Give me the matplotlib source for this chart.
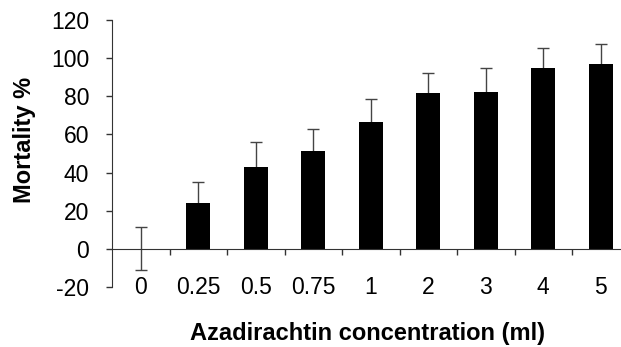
import matplotlib
matplotlib.use("Agg")
import matplotlib.pyplot as plt
import numpy as np

plt.rcParams['font.family'] = ['Liberation Sans', 'DejaVu Sans']
plt.rcParams['axes.unicode_minus'] = False

concentrations = ["0", "0.25", "0.5", "0.75", "1", "2", "3", "4", "5"]
mortality = [0, 24.3, 43.1, 51.4, 66.7, 81.6, 82.5, 95.0, 97.1]
errors = [11.3, 11.0, 12.8, 11.3, 11.7, 10.6, 12.5, 10.2, 10.2]


def main():
    fig = plt.figure(figsize=(6.21, 3.47), dpi=100)
    ax = fig.add_axes([0.1804, 0.1729, 0.8333, 0.7695])

    x = np.arange(len(concentrations))
    ax.bar(x, mortality, width=0.42, color="black", zorder=2)
    ax.errorbar(x, mortality, yerr=errors, fmt="none", ecolor="#444444",
                elinewidth=1.0, capsize=4, capthick=1.0, zorder=1)

    ax.set_xlim(-0.5, len(concentrations) - 0.5)
    ax.set_ylim(-20, 120)
    ax.set_yticks(np.arange(-20, 121, 20))
    ax.tick_params(axis="y", labelsize=16.5, length=4.5, width=1, color="#333333", pad=12)

    ax.spines["top"].set_visible(False)
    ax.spines["right"].set_visible(False)
    ax.spines["bottom"].set_position(("data", 0))
    ax.spines["left"].set_color("#333333")
    ax.spines["bottom"].set_color("#333333")

    ax.set_xticks(x)
    ax.set_xticklabels([])
    ax.tick_params(axis="x", which="major", length=0)
    ax.set_xticks(x[:-1] + 0.5, minor=True)
    ax.tick_params(axis="x", which="minor", length=4, width=1, color="#333333", direction="out")

    for xi, lab in zip(x, concentrations):
        ax.text(xi, -20, lab, ha="center", va="center", fontsize=16.5)

    fig.text(0.04, 0.597, "Mortality %", rotation=90, ha="center", va="center",
             fontsize=17, fontweight="bold")
    fig.text(0.591, 0.04, "Azadirachtin concentration (ml)", ha="center", va="center",
             fontsize=17, fontweight="bold")

    fig.savefig("out.png", dpi=100)


if __name__ == "__main__":
    main()
